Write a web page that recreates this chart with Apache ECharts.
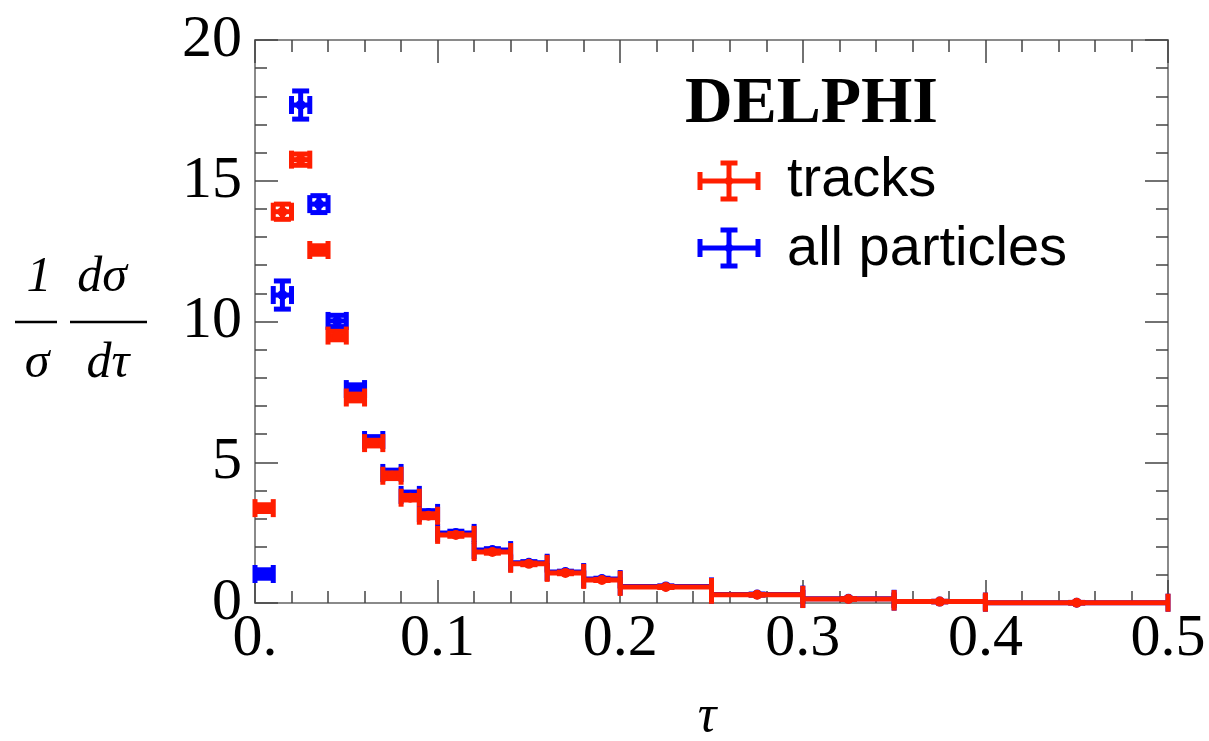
<!DOCTYPE html>
<html lang="en">
<head>
    <meta charset="UTF-8">
    <title>DELPHI tau</title>
    <script src="https://cdn.jsdelivr.net/npm/echarts@6/dist/echarts.min.js"></script>
    <style>
        html, body { margin: 0; padding: 0; background: #fff; }
        #main { width: 1209px; height: 741px; }
    </style>
</head>
<body>
<div id="main"></div>
<script>
    // bin edges in tau
    const binLo = [0, 0.01, 0.02, 0.03, 0.04, 0.05, 0.06, 0.07, 0.08, 0.09, 0.10, 0.12, 0.14, 0.16, 0.18, 0.20, 0.25, 0.30, 0.35, 0.40];
    const binHi = [0.01, 0.02, 0.03, 0.04, 0.05, 0.06, 0.07, 0.08, 0.09, 0.10, 0.12, 0.14, 0.16, 0.18, 0.20, 0.25, 0.30, 0.35, 0.40, 0.50];

    const trackVals = [3.37, 13.9, 15.75, 12.54, 9.5, 7.3, 5.68, 4.52, 3.74, 3.1, 2.42, 1.81, 1.39, 1.07, 0.82, 0.57, 0.29, 0.14, 0.05, 0.01];
    const trackErrs = [0.12, 0.27, 0.2, 0.15, 0.15, 0.12, 0.1, 0.1, 0.08, 0.07, 0.05, 0.04, 0.03, 0.03, 0.02, 0.02, 0.01, 0.01, 0.01, 0.01];

    const allVals = [1.03, 10.94, 17.69, 14.17, 10.02, 7.6, 5.79, 4.62, 3.84, 3.2, 2.49, 1.88, 1.43, 1.1, 0.85, 0.59, 0.3, 0.15, 0.05, 0.01];
    const allErrs = [0.15, 0.5, 0.5, 0.3, 0.2, 0.15, 0.12, 0.1, 0.1, 0.08, 0.06, 0.05, 0.04, 0.03, 0.03, 0.02, 0.02, 0.01, 0.01, 0.01];

    const seriesNames = ['tracks', 'all particles'];
    const seriesColors = ['#ff1e00', '#0000ff'];

    const xTicks = [0, 0.1, 0.2, 0.3, 0.4, 0.5];

    function buildData(vals, errs) {
        return vals.map((v, i) => [binLo[i], binHi[i], v, errs[i]]);
    }

    // error cross: horizontal bin bar + vertical error bar, caps on all ends
    function makeRender(color) {
        return function (params, api) {
            const x0 = api.value(0), x1 = api.value(1), y = api.value(2), e = api.value(3);
            const pL = api.coord([x0, y]);
            const pR = api.coord([x1, y]);
            const xc = (x0 + x1) / 2;
            const pc = api.coord([xc, y]);
            const pT = api.coord([xc, y + e]);
            const pB = api.coord([xc, y - e]);
            const st = { stroke: color, lineWidth: 5, lineCap: 'butt' };
            const hc = 9, vc = 8.5;
            const line = (a, b, c, d) => ({ type: 'line', shape: { x1: a, y1: b, x2: c, y2: d }, style: st });
            return {
                type: 'group',
                children: [
                    line(pL[0], pL[1], pR[0], pR[1]),
                    line(pL[0], pL[1] - hc, pL[0], pL[1] + hc),
                    line(pR[0], pR[1] - hc, pR[0], pR[1] + hc),
                    line(pT[0], pT[1], pB[0], pB[1]),
                    line(pT[0] - vc, pT[1], pT[0] + vc, pT[1]),
                    line(pB[0] - vc, pB[1], pB[0] + vc, pB[1]),
                    { type: 'circle', shape: { cx: pc[0], cy: pc[1], r: 5 }, style: { fill: color } }
                ]
            };
        };
    }

    function legendCross(cx, cy, color) {
        const st = { stroke: color, lineWidth: 5 };
        const ln = (a, b, c, d) => ({ type: 'line', shape: { x1: a, y1: b, x2: c, y2: d }, style: st });
        return {
            type: 'group',
            children: [
                ln(cx - 29, cy, cx + 29, cy),
                ln(cx - 29, cy - 9, cx - 29, cy + 9),
                ln(cx + 29, cy - 9, cx + 29, cy + 9),
                ln(cx, cy - 18, cx, cy + 18),
                ln(cx - 8.5, cy - 18, cx + 8.5, cy - 18),
                ln(cx - 8.5, cy + 18, cx + 8.5, cy + 18),
                { type: 'circle', shape: { cx: cx, cy: cy, r: 4 }, style: { fill: color } }
            ]
        };
    }

    const frameColor = '#8a8a8a';
    const tickColor = '#444';
    const serif = '"Liberation Serif", "DejaVu Serif", serif';
    const sans = '"Liberation Sans", Arial, sans-serif';

    function xAxisOpt(pos, labels) {
        return {
            type: 'value', position: pos, min: 0, max: 0.5, interval: 0.1,
            axisLine: { show: true, onZero: false, lineStyle: { color: frameColor, width: 2 } },
            axisTick: { show: true, inside: true, length: 23, lineStyle: { color: tickColor, width: 1.5 } },
            minorTick: { show: true, splitNumber: 5, length: 12, lineStyle: { color: tickColor, width: 1.5 } },
            splitLine: { show: false },
            axisLabel: {
                show: labels, margin: 6, fontFamily: serif, fontSize: 60, color: '#000',
                formatter: v => (v === xTicks[0] ? '0.' : v.toFixed(1))
            }
        };
    }

    function yAxisOpt(pos, labels) {
        return {
            type: 'value', position: pos, min: 0, max: 20, interval: 5,
            axisLine: { show: true, onZero: false, lineStyle: { color: frameColor, width: 2 } },
            axisTick: { show: true, inside: true, length: 23, lineStyle: { color: tickColor, width: 1.5 } },
            minorTick: { show: true, splitNumber: 5, length: 12, lineStyle: { color: tickColor, width: 1.5 } },
            splitLine: { show: false },
            axisLabel: { show: labels, margin: 13, fontFamily: serif, fontSize: 60, color: '#000' }
        };
    }

    const chart = echarts.init(document.getElementById('main'));
    chart.setOption({
        animation: false,
        grid: { left: 255, right: 41, top: 40, bottom: 138, containLabel: false },
        xAxis: [xAxisOpt('bottom', true), xAxisOpt('top', false)],
        yAxis: [yAxisOpt('left', true), yAxisOpt('right', false)],
        series: [
            {
                name: seriesNames[1], type: 'custom', renderItem: makeRender(seriesColors[1]),
                data: buildData(allVals, allErrs), encode: { x: [0, 1], y: 2 }, z: 2, clip: false
            },
            {
                name: seriesNames[0], type: 'custom', renderItem: makeRender(seriesColors[0]),
                data: buildData(trackVals, trackErrs), encode: { x: [0, 1], y: 2 }, z: 3, clip: false
            }
        ],
        graphic: [
            { type: 'text', left: 685, top: 72, style: { text: 'DELPHI', font: 'bold 66px ' + serif, fill: '#000' } },
            legendCross(729, 181, seriesColors[0]),
            legendCross(729, 248, seriesColors[1]),
            { type: 'text', x: 787, y: 181, style: { text: seriesNames[0], font: '56px ' + sans, fill: '#000', verticalAlign: 'middle' } },
            { type: 'text', x: 787, y: 250, style: { text: seriesNames[1], font: '56px ' + sans, fill: '#000', verticalAlign: 'middle' } },
            // y axis label: 1/sigma dsigma/dtau
            { type: 'text', x: 39, y: 278, style: { text: '1', font: 'italic 50px ' + serif, fill: '#000', align: 'center', verticalAlign: 'middle' } },
            { type: 'line', shape: { x1: 15, y1: 322, x2: 57, y2: 322 }, style: { stroke: '#000', lineWidth: 2.5 } },
            { type: 'text', x: 37, y: 364, style: { text: 'σ', font: 'italic 50px ' + serif, fill: '#000', align: 'center', verticalAlign: 'middle' } },
            { type: 'text', x: 102, y: 278, style: { text: 'dσ', font: 'italic 50px ' + serif, fill: '#000', align: 'center', verticalAlign: 'middle' } },
            { type: 'line', shape: { x1: 70, y1: 322, x2: 147, y2: 322 }, style: { stroke: '#000', lineWidth: 2.5 } },
            { type: 'text', x: 108, y: 364, style: { text: 'dτ', font: 'italic 50px ' + serif, fill: '#000', align: 'center', verticalAlign: 'middle' } },
            // x axis label
            { type: 'text', x: 707, y: 717, style: { text: 'τ', font: 'italic 52px ' + serif, fill: '#000', align: 'center', verticalAlign: 'middle' } }
        ]
    });
</script>
</body>
</html>
